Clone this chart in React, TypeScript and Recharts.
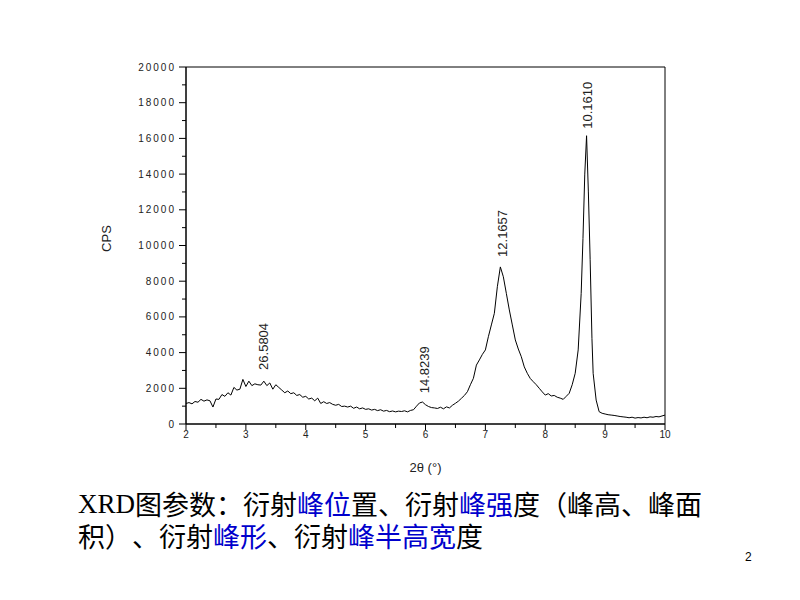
import { LineChart, Line, XAxis, YAxis, ReferenceArea, ReferenceDot } from "recharts";

// 2θ positions (°) and intensities (CPS)
const twoTheta = [
  2.0, 2.05, 2.1, 2.15, 2.2, 2.25, 2.3, 2.35, 2.4, 2.45, 2.5, 2.55, 2.6, 2.65, 2.7, 2.75, 2.8, 2.85, 2.9, 2.95,
  3.0, 3.05, 3.1, 3.15, 3.2, 3.25, 3.3, 3.35, 3.4, 3.45, 3.5, 3.55, 3.6, 3.65, 3.7, 3.75, 3.8, 3.85, 3.9, 3.95,
  4.0, 4.05, 4.1, 4.15, 4.2, 4.25, 4.3, 4.35, 4.4, 4.45, 4.5, 4.55, 4.6, 4.65, 4.7, 4.75, 4.8, 4.85, 4.9, 4.95,
  5.0, 5.05, 5.1, 5.15, 5.2, 5.25, 5.3, 5.35, 5.4, 5.45, 5.5, 5.55, 5.6, 5.65, 5.7, 5.75, 5.8, 5.85, 5.9, 5.95,
  6.0, 6.05, 6.1, 6.15, 6.2, 6.25, 6.3, 6.35, 6.4, 6.45, 6.5, 6.55, 6.6, 6.65, 6.7, 6.75, 6.8, 6.85, 6.9, 6.95,
  7.0, 7.05, 7.1, 7.15, 7.2, 7.25, 7.3, 7.35, 7.4, 7.45, 7.5, 7.55, 7.6, 7.65, 7.7, 7.75, 7.8, 7.85, 7.9, 7.95,
  8.0, 8.05, 8.1, 8.15, 8.2, 8.25, 8.3, 8.35, 8.4, 8.45, 8.5, 8.55, 8.6, 8.63, 8.66, 8.69, 8.72, 8.75, 8.78, 8.8, 8.85, 8.9, 8.95,
  9.0, 9.05, 9.1, 9.15, 9.2, 9.25, 9.3, 9.35, 9.4, 9.45, 9.5, 9.55, 9.6, 9.65, 9.7, 9.75, 9.8, 9.85, 9.9, 9.95, 10.0,
];

const cps = [
  1150, 1200, 1130, 1260, 1220, 1380, 1280, 1350, 1300, 950, 1400, 1380, 1650, 1550, 1750, 1620, 2050, 1900, 1950, 2500,
  2100, 2400, 2150, 2250, 2200, 2180, 2400, 2150, 2300, 1950, 2200, 2050, 1900, 1750, 1850, 1700, 1750, 1600, 1650, 1500,
  1550, 1400, 1450, 1300, 1450, 1150, 1250, 1150, 1200, 1100, 1050, 1100, 980, 1000, 950, 1000, 880, 950, 850, 900,
  820, 850, 780, 820, 750, 800, 720, 760, 690, 730, 680, 720, 700, 740, 680, 760, 800, 1000, 1180, 1230,
  1080, 980, 920, 900, 870, 940, 850, 960, 900, 1050, 1160, 1280, 1440, 1600, 1810, 2200, 2560, 3300, 3590, 3900,
  4150, 4890, 5550, 6200, 7690, 8800, 8250, 7320, 6390, 5550, 4710, 4200, 3770, 3200, 2840, 2550, 2370, 2200, 2000, 1800,
  1620, 1700, 1570, 1600, 1500, 1450, 1380, 1550, 1720, 2200, 2840, 4150, 7320, 10400, 14000, 16150, 13000, 9200, 4800, 2840, 1340, 690, 600,
  560, 520, 500, 480, 450, 420, 400, 380, 350, 380, 330, 360, 340, 380, 350, 400, 380, 420, 400, 450, 500,
];

const xTicks = [2, 2.5, 3, 3.5, 4, 4.5, 5, 5.5, 6, 6.5, 7, 7.5, 8, 8.5, 9, 9.5, 10];
const yTicks = [
  0, 1000, 2000, 3000, 4000, 5000, 6000, 7000, 8000, 9000, 10000,
  11000, 12000, 13000, 14000, 15000, 16000, 17000, 18000, 19000, 20000,
];

// peak labels (d-spacing) and where they sit
const peakX = [3.29, 5.97, 7.28, 8.69];
const peakY = [3030, 1720, 9360, 16540];
const peakText = ["26.5804", "14.8239", "12.1657", "10.1610"];

// caption runs: [text, highlighted]
const captionLine1: [string, boolean][] = [
  ["图参数：衍射", false],
  ["峰位", true],
  ["置、衍射", false],
  ["峰强", true],
  ["度（峰高、峰面", false],
];
const captionLine2: [string, boolean][] = [
  ["积）、衍射", false],
  ["峰形", true],
  ["、衍射", false],
  ["峰半高宽", true],
  ["度", false],
];

const data = twoTheta.map((x, i) => ({ x, cps: cps[i] }));

const FONT = "'Liberation Sans', Arial, sans-serif";
const CJK = "'Noto Sans CJK SC', sans-serif";
const BLUE = "#0000cc";

const XTick = ({ x, y, payload }: any) => {
  const major = Number.isInteger(payload.value);
  return (
    <g>
      <line x1={x} y1={y} x2={x} y2={y + (major ? 6 : 4)} stroke="#000" />
      {major && (
        <text x={x} y={y + 14} textAnchor="middle" fontSize={10} fontFamily={FONT} fill="#222">
          {payload.value}
        </text>
      )}
    </g>
  );
};

const YTick = ({ x, y, payload }: any) => {
  const major = payload.value % 2000 === 0;
  return (
    <g>
      <line x1={x} y1={y} x2={x - (major ? 7 : 4)} y2={y} stroke="#000" />
      {major && (
        <text
          x={x - 10}
          y={y}
          dy="0.35em"
          textAnchor="end"
          fontSize={10}
          letterSpacing={2}
          fontFamily={FONT}
          fill="#222"
        >
          {payload.value}
        </text>
      )}
    </g>
  );
};

const PeakLabel = (text: string) => (props: any) => {
  const { cx, cy } = props;
  const bx = cx + 5;
  return (
    <text
      x={bx}
      y={cy}
      transform={`rotate(-90 ${bx} ${cy})`}
      fontSize={13}
      fontFamily={FONT}
      fill="#222"
    >
      {text}
    </text>
  );
};

const runStyle: any = {
  display: "inline-block",
  height: 32,
  lineHeight: "32px",
  verticalAlign: "top",
  fontFamily: CJK,
  fontFeatureSettings: '"chws" 0, "halt" 0, "palt" 0',
  textSpacingTrim: "space-all",
};

const CaptionLine = ({ runs, lead, top }: { runs: [string, boolean][]; lead?: string; top: number }) => (
  <div
    style={{
      position: "absolute",
      left: 78,
      top,
      height: 32,
      fontSize: 27,
      lineHeight: "32px",
      color: "#000",
      whiteSpace: "nowrap",
    }}
  >
    {lead && (
      <span style={{ ...runStyle, fontFamily: "'Liberation Serif', serif" }}>{lead}</span>
    )}
    {runs.map(([t, hi], i) => (
      <span key={i} style={{ ...runStyle, color: hi ? BLUE : "#000" }}>
        {t}
      </span>
    ))}
  </div>
);

export default function App() {
  return (
    <div style={{ position: "absolute", left: 0, top: 0, width: 800, height: 600, background: "#fff" }}>
      <LineChart
        width={800}
        height={600}
        data={data}
        margin={{ top: 67, right: 135, left: 0, bottom: 116 }}
      >
        <XAxis
          dataKey="x"
          type="number"
          domain={[2, 10]}
          ticks={xTicks}
          interval={0}
          tickSize={0}
          tickMargin={0}
          height={60}
          axisLine={{ stroke: "#000" }}
          tick={<XTick />}
          label={{
            content: ({ viewBox }: any) => (
              <text
                x={viewBox.x + viewBox.width / 2}
                y={viewBox.y + 48}
                textAnchor="middle"
                fontSize={13}
                fontFamily={FONT}
                fill="#222"
              >
                2θ (°)
              </text>
            ),
          }}
        />
        <YAxis
          type="number"
          domain={[0, 20000]}
          ticks={yTicks}
          interval={0}
          tickSize={0}
          tickMargin={0}
          width={186}
          axisLine={{ stroke: "#000" }}
          tick={<YTick />}
          label={{
            content: ({ viewBox }: any) => {
              const cx = viewBox.x + viewBox.width - 75;
              const cy = viewBox.y + viewBox.height / 2 - 7;
              return (
                <text
                  x={cx}
                  y={cy}
                  transform={`rotate(-90 ${cx} ${cy})`}
                  textAnchor="middle"
                  fontSize={13}
                  fontFamily={FONT}
                  fill="#222"
                >
                  CPS
                </text>
              );
            },
          }}
        />
        <ReferenceArea x1={2} x2={10} y1={0} y2={20000} fill="none" stroke="#000" strokeWidth={1} />
        <Line
          type="linear"
          dataKey="cps"
          stroke="#000"
          strokeWidth={1}
          dot={false}
          isAnimationActive={false}
        />
        {peakText.map((t, i) => (
          <ReferenceDot key={t} x={peakX[i]} y={peakY[i]} r={0} shape={PeakLabel(t)} />
        ))}
      </LineChart>
      <CaptionLine lead="XRD" runs={captionLine1} top={488} />
      <CaptionLine runs={captionLine2} top={520} />
      <div
        style={{
          position: "absolute",
          left: 745,
          top: 550,
          fontSize: 12,
          fontFamily: FONT,
          color: "#000",
        }}
      >
        2
      </div>
    </div>
  );
}
